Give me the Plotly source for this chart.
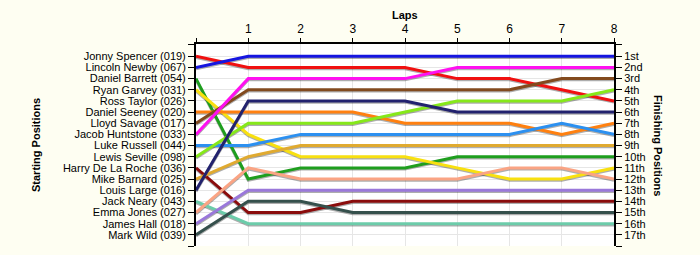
import plotly.graph_objects as go

laps = [0, 1, 2, 3, 4, 5, 6, 7, 8]
lap_labels = ["", "1", "2", "3", "4", "5", "6", "7", "8"]

drivers = [
    "Jonny Spencer (019)", "Lincoln Newby (067)", "Daniel Barrett (054)",
    "Ryan Garvey (031)", "Ross Taylor (026)", "Daniel Seeney (020)",
    "Lloyd Savage (017)", "Jacob Huntstone (033)", "Luke Russell (044)",
    "Lewis Seville (098)", "Harry De La Roche (036)", "Mike Barnard (025)",
    "Louis Large (016)", "Jack Neary (043)", "Emma Jones (027)",
    "James Hall (018)", "Mark Wild (039)",
]
finish_labels = ["1st", "2nd", "3rd", "4th", "5th", "6th", "7th", "8th", "9th",
                 "10th", "11th", "12th", "13th", "14th", "15th", "16th", "17th"]

positions = {
    "Jonny Spencer (019)": [1, 2, 2, 2, 2, 3, 3, 4, 5],
    "Lincoln Newby (067)": [2, 1, 1, 1, 1, 1, 1, 1, 1],
    "Daniel Barrett (054)": [3, 12, 11, 11, 11, 10, 10, 10, 10],
    "Ryan Garvey (031)": [4, 8, 10, 10, 10, 11, 12, 12, 11],
    "Ross Taylor (026)": [None] * 9,
    "Daniel Seeney (020)": [6, 6, 6, 6, 7, 7, 7, 8, 7],
    "Lloyd Savage (017)": [7, 4, 4, 4, 4, 4, 4, 3, 3],
    "Jacob Huntstone (033)": [8, 3, 3, 3, 3, 2, 2, 2, 2],
    "Luke Russell (044)": [9, 9, 8, 8, 8, 8, 8, 7, 8],
    "Lewis Seville (098)": [10, 7, 7, 7, 6, 5, 5, 5, 4],
    "Harry De La Roche (036)": [11, 15, 15, 14, 14, 14, 14, 14, 14],
    "Mike Barnard (025)": [12, 10, 9, 9, 9, 9, 9, 9, 9],
    "Louis Large (016)": [13, 5, 5, 5, 5, 6, 6, 6, 6],
    "Jack Neary (043)": [14, 16, 16, 16, 16, 16, 16, 16, 16],
    "Emma Jones (027)": [15, 11, 12, 12, 12, 12, 11, 11, 12],
    "James Hall (018)": [16, 13, 13, 13, 13, 13, 13, 13, 13],
    "Mark Wild (039)": [17, 14, 14, 15, 15, 15, 15, 15, 15],
}

colors = {
    "Jonny Spencer (019)": "#F01010",
    "Lincoln Newby (067)": "#1515E0",
    "Daniel Barrett (054)": "#1E9E1E",
    "Ryan Garvey (031)": "#F8E010",
    "Ross Taylor (026)": "#999999",
    "Daniel Seeney (020)": "#FF8010",
    "Lloyd Savage (017)": "#824A1E",
    "Jacob Huntstone (033)": "#FF10F0",
    "Luke Russell (044)": "#2C90F0",
    "Lewis Seville (098)": "#86E81A",
    "Harry De La Roche (036)": "#8A0C0C",
    "Mike Barnard (025)": "#E0AA30",
    "Louis Large (016)": "#22226E",
    "Jack Neary (043)": "#6CCCAA",
    "Emma Jones (027)": "#FAA484",
    "James Hall (018)": "#9A78DA",
    "Mark Wild (039)": "#35504C",
}

FONT = "Liberation Sans, Arial, sans-serif"
fig = go.Figure()

for name in drivers:
    ys = positions[name]
    if all(v is None for v in ys):
        continue
    shadow = [None if v is None else v + 0.11 for v in ys]
    fig.add_trace(go.Scatter(x=laps, y=shadow, mode="lines",
                             line=dict(color="rgba(0,0,0,0.32)", width=3),
                             hoverinfo="skip", showlegend=False))
for name in drivers:
    ys = positions[name]
    if all(v is None for v in ys):
        continue
    fig.add_trace(go.Scatter(x=laps, y=ys, mode="lines", name=name,
                             line=dict(color=colors[name], width=3),
                             showlegend=False))

fig.add_trace(go.Scatter(x=[None], y=[None], yaxis="y2", showlegend=False,
                         hoverinfo="skip"))

yrange = [18, -0.1]
ends = [-0.1, 18]

W, H = 700, 255
l, r, t, b = 196, 86, 44, 9
pw, ph = W - l - r, H - t - b

fig.update_layout(
    width=W, height=H,
    margin=dict(l=l, r=r, t=t, b=b),
    paper_bgcolor="#FEFEF2",
    plot_bgcolor="#FFFFFF",
    font=dict(family=FONT, size=11, color="#000000"),
    xaxis=dict(
        side="top", range=[0, 8], tickvals=laps, ticktext=lap_labels,
        ticks="outside", ticklen=4, tickcolor="#000", showline=True,
        linecolor="#000", linewidth=2, showgrid=True, gridcolor="#E6E6E6",
        zeroline=False, tickfont=dict(size=12, family=FONT),
    ),
    yaxis=dict(
        range=yrange, tickvals=list(range(1, 18)), ticktext=drivers,
        ticks="outside", ticklen=6, tickcolor="#000", tickwidth=1,
        showline=True, linecolor="#000", linewidth=2,
        showgrid=True, gridcolor="#E6E6E6", zeroline=False,
        tickfont=dict(size=11, family=FONT),
        minor=dict(tickvals=ends, ticks="outside", ticklen=6,
                   tickcolor="#000", showgrid=False),
    ),
    yaxis2=dict(
        overlaying="y", side="right", range=yrange,
        tickvals=list(range(1, 18)), ticktext=finish_labels,
        ticks="outside", ticklen=6, tickcolor="#000", tickwidth=1,
        showline=True, linecolor="#000", linewidth=2,
        showgrid=False, zeroline=False,
        tickfont=dict(size=11, family=FONT),
        minor=dict(tickvals=ends, ticks="outside", ticklen=6,
                   tickcolor="#000", showgrid=False),
    ),
    annotations=[
        dict(text="<b>Laps</b>", x=0.5, xref="paper",
             y=(H - b - 15) / ph, yref="paper",
             yanchor="middle", showarrow=False, font=dict(size=11)),
        dict(text="<b>Starting Positions</b>", x=(28 - l) / pw,
             y=(H - b - 145) / ph, xref="paper", yref="paper",
             textangle=-90, showarrow=False, font=dict(size=11)),
        dict(text="<b>Finishing Positions</b>", x=(666 - l) / pw,
             y=(H - b - 145) / ph, xref="paper", yref="paper",
             textangle=90, showarrow=False, font=dict(size=11)),
    ],
)

fig.write_html("out.html")
